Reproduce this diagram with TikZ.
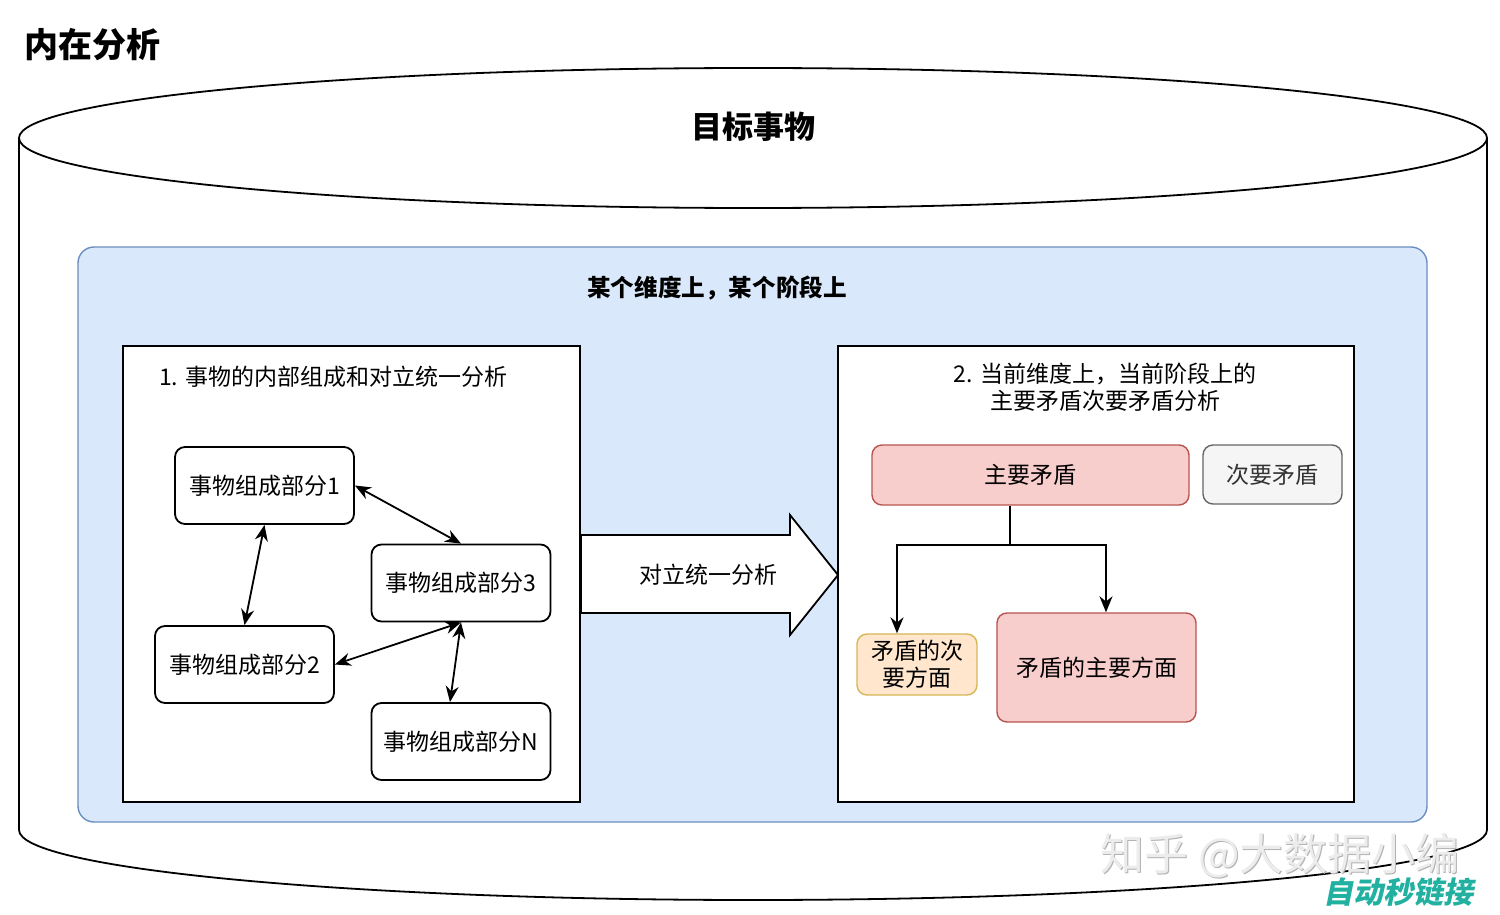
\documentclass[tikz,border=0pt]{standalone}
\usepackage{fontspec}
\setmainfont{Noto Sans CJK SC}
\newfontfamily\wmslant[FakeSlant=0.2]{Noto Sans CJK SC}
\usetikzlibrary{arrows.meta,positioning}

\definecolor{bluefill}{HTML}{DAE8FC}
\definecolor{bluedraw}{HTML}{6C8EBF}
\definecolor{redfill}{HTML}{F8CECC}
\definecolor{reddraw}{HTML}{B85450}
\definecolor{grayfill}{HTML}{F5F5F5}
\definecolor{graydraw}{HTML}{666666}
\definecolor{graytext}{HTML}{333333}
\definecolor{orangefill}{HTML}{FFE6CC}
\definecolor{orangedraw}{HTML}{D6B656}
\definecolor{wmteal}{HTML}{22B0A0}

\newcommand\bodyfont{\fontsize{11.5}{13.5}\selectfont}

\tikzset{
  line/.style={line width=0.9pt},
  both/.style={line, {Stealth[length=8pt,width=6.5pt]}-{Stealth[length=8pt,width=6.5pt]}},
  tip/.style={line, -{Stealth[length=8pt,width=6.5pt]}},
  partbox/.style={draw, line, fill=white, rounded corners=5pt, inner sep=0pt,
    minimum width=89.5pt, minimum height=38.5pt, font=\bodyfont},
  panel/.style={draw, line, fill=white, inner sep=0pt,
    minimum width=#1, minimum height=228pt},
  facet/.style 2 args={draw, line width=0.7pt, fill=#1, draw=#2, rounded corners=5pt,
    inner sep=0pt, font=\bodyfont}
}

\begin{document}
\begin{tikzpicture}[x=0.5pt,y=-0.5pt]
\useasboundingbox (0,0) rectangle (1500,915);

% cylinder
\draw[line, fill=white] (19,138) -- (19,830) arc [start angle=180, end angle=360,
  x radius=367pt, y radius=35pt] -- (1487,138);
\draw[line, fill=white] (753,138) ellipse [x radius=367pt, y radius=35pt];
\node (title) at (17,45) [anchor=west, font=\fontsize{17}{20}\selectfont\bfseries] {内在分析};
\node (thing) at (753,127) [font=\fontsize{15.5}{18}\selectfont\bfseries] {目标事物};

% stage
\node (stage) at (752.5,534.5) [draw=bluedraw, line width=0.7pt, fill=bluefill,
  rounded corners=8pt, minimum width=674.5pt, minimum height=287.5pt] {};
\node (stagelbl) at (717,288) [font=\fontsize{11.8}{14}\selectfont\bfseries] {某个维度上，某个阶段上};

% left panel
\node (inner) at (351.5,574) [panel=228.5pt] {};
\node (innerlbl) at (152,377) [anchor=west, font=\bodyfont] {1. 事物的内部组成和对立统一分析};

\node (p1) at (264.5,485.5) [partbox] {事物组成部分1};
\node (p3) at (461,583) [partbox] {事物组成部分3};
\node (p2) at (244.5,664.5) [partbox] {事物组成部分2};
\node (pn) at (461,741.5) [partbox] {事物组成部分N};

\draw[both] (p1.east) -- (p3.north);
\draw[both] (p1.south) -- (p2.north);
\draw[both] (p2.east) -- (p3.south);
\draw[both] (p3.south) -- ([xshift=-5.5pt]pn.north);

% big arrow
\draw[line, fill=white] (581,535) -- (790,535) -- (790,515) -- (838,575)
  -- (790,635) -- (790,613) -- (581,613) -- cycle;
\node (oppo) at (708,575) [font=\bodyfont] {对立统一分析};

% right panel
\node (current) at (1096,574) [panel=258pt] {};
\node (currentlbl) at (1105,387) [align=center, font=\bodyfont] {2. 当前维度上，当前阶段上的\\主要矛盾次要矛盾分析};

\node (mainc) at (1030.5,475) [facet={redfill}{reddraw}, minimum width=158.5pt, minimum height=30pt] {主要矛盾};
\node (minorc) at (1272.5,474.5) [facet={grayfill}{graydraw}, text=graytext, minimum width=69.5pt, minimum height=29.5pt] {次要矛盾};
\node (minoraspect) at (917,664.5) [facet={orangefill}{orangedraw}, align=center, minimum width=60pt, minimum height=30.5pt] {矛盾的次\\要方面};
\node (majoraspect) at (1096.5,667.5) [facet={redfill}{reddraw}, minimum width=99.5pt, minimum height=54.5pt] {矛盾的主要方面};

\coordinate (split) at (1010,545);
\coordinate (ta) at (897,545);
\coordinate (tb) at (1106,545);
\draw[line] (split |- mainc.south) -- (split);
\draw[tip] (split) -- (ta) -- (ta |- minoraspect.north);
\draw[tip] (split) -- (tb) -- (tb |- majoraspect.north);

% watermark
\node (wmshadow) at (1281,857) [text=gray!60, font=\fontsize{22}{24}\selectfont] {知乎 @大数据小编};
\node (wm) at (1280,856) [text=gray!15, font=\fontsize{22}{24}\selectfont] {知乎 @大数据小编};
\node (wmlink) at (1398,892) [text=wmteal, font=\fontsize{15}{17}\selectfont\wmslant\bfseries] {自动秒链接};
\end{tikzpicture}
\end{document}
